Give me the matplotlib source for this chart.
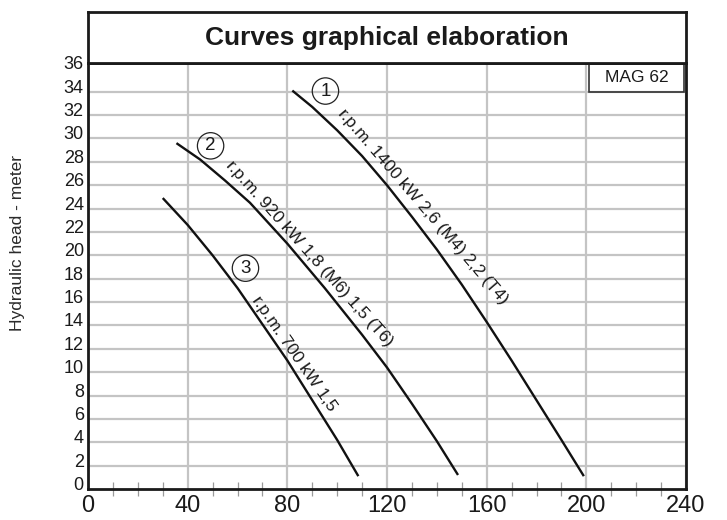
import matplotlib
matplotlib.use("Agg")
import matplotlib.pyplot as plt
import matplotlib.transforms as mtransforms
from matplotlib.patches import Rectangle

plt.rcParams["font.family"] = ["Liberation Sans", "DejaVu Sans"]

# curve 1: 1400 rpm
flow_1 = [82, 90, 100, 110, 120, 130, 140, 150, 160, 170, 180, 190, 199]
head_1 = [34.1, 32.7, 30.7, 28.5, 26.0, 23.3, 20.5, 17.5, 14.3, 11.0, 7.6, 4.2, 1.1]

# curve 2: 920 rpm
flow_2 = [35.5, 45, 55, 65, 80, 95, 110, 120, 130, 140, 148.5]
head_2 = [29.6, 28.2, 26.4, 24.5, 21.0, 17.2, 13.2, 10.4, 7.3, 4.1, 1.2]

# curve 3: 700 rpm
flow_3 = [30, 40, 50, 60, 70, 80, 90, 100, 108.5]
head_3 = [24.9, 22.6, 20.0, 17.2, 14.1, 11.0, 7.6, 4.2, 1.1]

curve_numbers = ["1", "2", "3"]
curve_labels = [
    "r.p.m. 1400 kW 2,6 (M4) 2,2 (T4)",
    "r.p.m. 920 kW 1,8 (M6) 1,5 (T6)",
    "r.p.m. 700 kW 1,5",
]

x_ticks = [0, 40, 80, 120, 160, 200, 240]
x_minor = [10, 20, 30, 50, 60, 70, 90, 100, 110, 130, 140, 150,
           170, 180, 190, 210, 220, 230]
y_ticks = list(range(0, 37, 2))

title = "Curves graphical elaboration"
model = "MAG 62"
y_label = "Hydraulic head - meter"

W, H = 727, 520
fig = plt.figure(figsize=(W / 100, H / 100), dpi=100)

left, right, top, bottom = 88, 686, 63, 489
ax = fig.add_axes([left / W, 1 - bottom / H, (right - left) / W, (bottom - top) / H])

txt = "#1a1a1a"
grid_c = "#c4c4c4"

ax.set_xlim(0, 240)
ax.set_ylim(0, 36.46)
ax.set_xticks(x_ticks)
ax.set_xticks(x_minor, minor=True)
ax.set_yticks(y_ticks)
ax.set_axisbelow(True)
ax.grid(True, which="major", color=grid_c, lw=1.6)

for s in ax.spines.values():
    s.set_linewidth(2.0)
    s.set_color("#1a1a1a")

ax.tick_params(axis="x", which="major", length=0, pad=4, labelsize=17, labelcolor=txt)
ax.tick_params(axis="x", which="minor", direction="inout", length=10, width=0.9, color="#9a9a9a")
ax.tick_params(axis="y", which="major", length=0, pad=3, labelsize=13, labelcolor=txt)

# labels sit a little above their grid lines in the original
offset = mtransforms.ScaledTranslation(0, 5.5 / 100, fig.dpi_scale_trans)
for lab in ax.get_yticklabels():
    lab.set_transform(lab.get_transform() + offset)
ax.yaxis.get_major_ticks()[-1].gridline.set_visible(False)
ax.yaxis.get_major_ticks()[0].gridline.set_visible(False)

for fx, hy in [(flow_1, head_1), (flow_2, head_2), (flow_3, head_3)]:
    ax.plot(fx, hy, color="#111111", lw=1.7, solid_capstyle="butt")

# circled curve numbers
num_pos = [(95.3, 34.06), (49.2, 29.37), (63.2, 18.9)]
for n, (x, y) in zip(curve_numbers, num_pos):
    ax.text(x, y, n, fontsize=13.5, color=txt, ha="center", va="center",
            bbox=dict(boxstyle="circle,pad=0.25", fc="none", ec="#222222", lw=0.9))

lab_pos = [(134.5, 24.13, -49.3), (88.9, 20.17, -48.3), (82.9, 11.61, -55.2)]
for s, (x, y, rot) in zip(curve_labels, lab_pos):
    ax.text(x, y, s, fontsize=12.5, color=txt, ha="center", va="center",
            rotation=rot, rotation_mode="anchor")

# model box, top right
ax.add_patch(Rectangle((0.838, 0.932), 0.159, 0.0657, transform=ax.transAxes,
                       fill=False, ec="#333333", lw=1.2))
ax.text(0.9175, 0.965, model, transform=ax.transAxes, fontsize=12.5,
        color=txt, ha="center", va="center")

# title box
tb = fig.add_axes([left / W, 1 - top / H, (right - left) / W, (top - 12) / H])
tb.set_xticks([])
tb.set_yticks([])
for s in tb.spines.values():
    s.set_linewidth(2.0)
    s.set_color("#1a1a1a")
tb.text(0.5, 0.5, title, fontsize=19, fontweight="bold", color=txt,
        ha="center", va="center", transform=tb.transAxes)

fig.text(18 / W, 1 - 243 / H, y_label, rotation=90, fontsize=12.5,
         color="#2a2a2a", ha="center", va="center")

fig.savefig("out.png", dpi=100)
